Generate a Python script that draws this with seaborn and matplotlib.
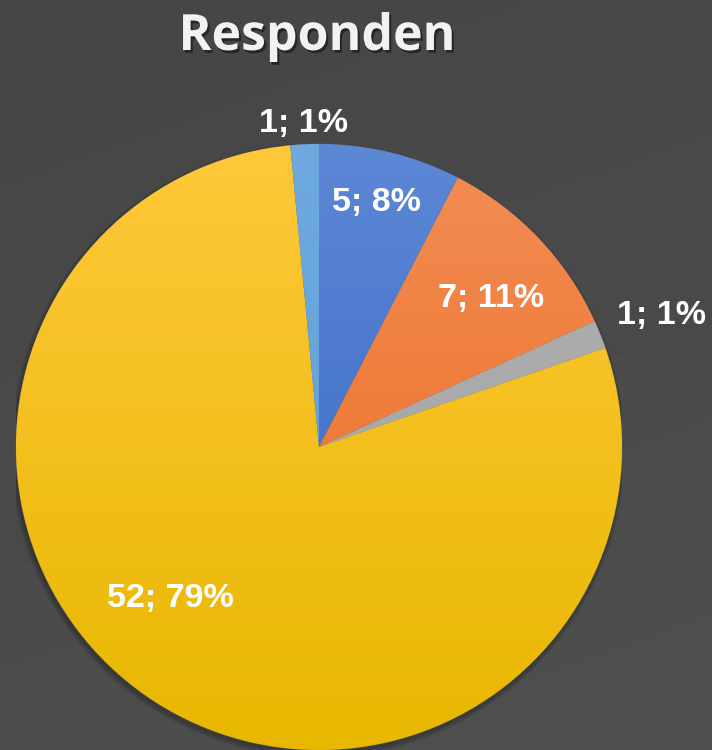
import numpy as np
import matplotlib
matplotlib.use("Agg")
import matplotlib.pyplot as plt
import matplotlib.patheffects as pe
from matplotlib.colors import LinearSegmentedColormap
import seaborn as sns

# Survey respondents by group
categories = ["A", "B", "C", "D", "E"]
counts = [5, 7, 1, 52, 1]
percent_labels = ["8%", "11%", "1%", "79%", "1%"]

# slice colours (top, bottom of the vertical gradient)
slice_colors = [("#5d88d6", "#2f61c0"),
                ("#f38d55", "#e9681a"),
                ("#b0b0b0", "#a2a2a2"),
                ("#ffc83a", "#e8b700"),
                ("#6eaadf", "#5b9bd5")]

# label placement: (radial distance, angle in degrees)
label_pos = [(0.83, 76.8), (0.75, 40.7), (1.21, 21.0), (0.70, 225.6), (1.07, 92.8)]

sns.set_theme(style="dark")
plt.rcParams["font.family"] = ["Liberation Sans", "DejaVu Sans"]

W, H = 712, 750
fig = plt.figure(figsize=(W / 100, H / 100), dpi=100)

# background gradient
bg = fig.add_axes([0, 0, 1, 1])
yy, xx = np.mgrid[0:1:200j, 0:1:200j]
shade = 0.27 + 0.03 * yy + 0.01 * xx
bg.imshow(shade, cmap="gray", vmin=0, vmax=1, extent=[0, 1, 0, 1], aspect="auto", origin="upper")
bg.set_axis_off()

cx, cy, r = 319, 447, 303
ax = fig.add_axes([(cx - r) / W, (H - cy - r) / H, 2 * r / W, 2 * r / H])
ax.set_xlim(-1, 1)
ax.set_ylim(-1, 1)
ax.set_axis_off()

# soft shadow beneath the pie, offset down and to the left
for k in range(6):
    circ = plt.Circle((-0.004, -0.010), 0.998 + 0.003 * k, color="black", alpha=0.035, zorder=0.5)
    ax.add_patch(circ)

wedges, _ = ax.pie(counts, startangle=90, counterclock=False, radius=1.0,
                   colors=[c[1] for c in slice_colors],
                   wedgeprops=dict(linewidth=0.6, edgecolor="#5a5a5a"))

# vertical gradient fill clipped to each wedge
grad = np.linspace(0, 1, 256).reshape(-1, 1)
for w, (top, bot) in zip(wedges, slice_colors):
    cmap = LinearSegmentedColormap.from_list("g", [top, bot])
    im = ax.imshow(grad, cmap=cmap, extent=[-1, 1, -1, 1], origin="upper",
                   aspect="auto", zorder=w.get_zorder() + 0.1)
    im.set_clip_path(w)
ax.set_xlim(-1, 1)
ax.set_ylim(-1, 1)

for n, p, (d, a) in zip(counts, percent_labels, label_pos):
    t = np.deg2rad(a)
    ax.text(d * np.cos(t), d * np.sin(t), f"{n}; {p}", ha="center", va="center",
            color="white", fontsize=24.5, fontweight="bold", zorder=10, clip_on=False)

fig.text(317 / W, 1 - 50 / H, "Responden", ha="center", va="baseline",
         fontsize=36, fontweight="bold", color="#f2f2f2", family=["Open Sans", "DejaVu Sans"],
         path_effects=[pe.withSimplePatchShadow(offset=(1.5, -2), shadow_rgbFace="black", alpha=0.45)])

fig.savefig("out.png", dpi=100)
